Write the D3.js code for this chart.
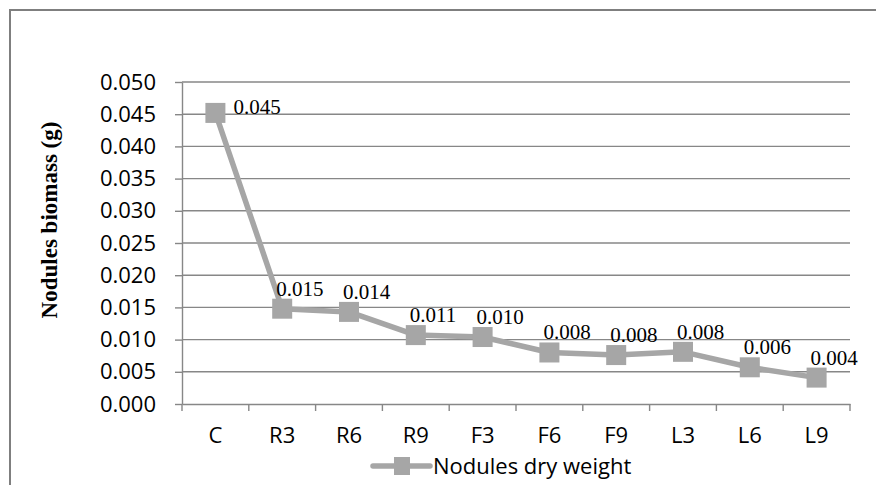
<!DOCTYPE html>
<html>
<head>
<meta charset="utf-8">
<script src="https://cdn.jsdelivr.net/npm/d3@7"></script>
<style>
  body { margin: 0; background: #fff; }
  svg { display: block; }
</style>
</head>
<body>
<svg id="chart" width="876" height="485"></svg>
<script>
var categories = ["C", "R3", "R6", "R9", "F3", "F6", "F9", "L3", "L6", "L9"];
var dryWeight = [0.0452, 0.0148, 0.0143, 0.0107, 0.0104, 0.0080, 0.0076, 0.0081, 0.0057, 0.0041];
var pointLabels = ["0.045", "0.015", "0.014", "0.011", "0.010", "0.008", "0.008", "0.008", "0.006", "0.004"];
var yTicks = [0, 0.005, 0.010, 0.015, 0.020, 0.025, 0.030, 0.035, 0.040, 0.045, 0.050];
var seriesName = "Nodules dry weight";
var yTitle = "Nodules biomass (g)";

var gridColor = "#878787";
var lineColor = "#a6a6a6";
var tickFont = "'Open Sans', sans-serif";
var labelFont = "'Liberation Serif', 'Times New Roman', serif";

var svg = d3.select("#chart");

// outer chart frame (right and bottom edges fall outside the picture)
svg.append("rect")
  .attr("x", 10).attr("y", 10)
  .attr("width", 900).attr("height", 500)
  .attr("fill", "none")
  .attr("stroke", "#7f7f7f")
  .attr("stroke-width", 2);

var x = d3.scaleBand().domain(categories).range([182, 850]).paddingInner(0).paddingOuter(0);
var y = d3.scaleLinear().domain([0, 0.05]).range([404, 82]);
var cx = function(c) { return x(c) + x.bandwidth() / 2; };

// gridlines
svg.append("g").selectAll("line")
  .data(yTicks.slice(1))
  .enter().append("line")
  .attr("x1", 182).attr("x2", 850)
  .attr("y1", function(d) { return y(d); })
  .attr("y2", function(d) { return y(d); })
  .attr("stroke", gridColor)
  .attr("stroke-width", 1.4);

// y axis
var yAxis = svg.append("g")
  .attr("transform", "translate(182,0)")
  .call(d3.axisLeft(y).tickValues(yTicks).tickFormat(d3.format(".3f")).tickSizeInner(7).tickSizeOuter(0).tickPadding(19));
yAxis.select(".domain").attr("stroke", gridColor).attr("stroke-width", 1.4);
yAxis.selectAll(".tick line").attr("stroke", gridColor).attr("stroke-width", 1.4);
yAxis.selectAll("text")
  .attr("font-family", tickFont)
  .attr("font-size", 22)
  .attr("fill", "#000");

// x axis (labels only, boundary ticks drawn below)
var xAxis = svg.append("g")
  .attr("transform", "translate(0,404)")
  .call(d3.axisBottom(x).tickSize(0).tickPadding(23));
xAxis.select(".domain").attr("stroke", gridColor).attr("stroke-width", 1.4);
xAxis.selectAll("text")
  .attr("font-family", tickFont)
  .attr("font-size", 22)
  .attr("fill", "#000");

var bounds = categories.map(function(c) { return x(c); }).concat([x.range()[1]]);
svg.append("g").selectAll("line")
  .data(bounds)
  .enter().append("line")
  .attr("x1", function(d) { return d; })
  .attr("x2", function(d) { return d; })
  .attr("y1", 404).attr("y2", 411)
  .attr("stroke", gridColor)
  .attr("stroke-width", 1.4);

// series line
var line = d3.line()
  .x(function(d, i) { return cx(categories[i]); })
  .y(function(d) { return y(d); });

svg.append("path")
  .datum(dryWeight)
  .attr("d", line)
  .attr("fill", "none")
  .attr("stroke", lineColor)
  .attr("stroke-width", 5.5)
  .attr("stroke-linejoin", "round");

svg.append("g").selectAll("rect")
  .data(dryWeight)
  .enter().append("rect")
  .attr("x", function(d, i) { return cx(categories[i]) - 10; })
  .attr("y", function(d) { return y(d) - 10; })
  .attr("width", 20).attr("height", 20)
  .attr("fill", lineColor);

// data labels
svg.append("g").selectAll("text")
  .data(dryWeight)
  .enter().append("text")
  .attr("x", function(d, i) { return i === 0 ? cx(categories[i]) + 18 : cx(categories[i]) - 6; })
  .attr("y", function(d, i) { return i === 0 ? y(d) + 1 : y(d) - 13; })
  .attr("font-family", labelFont)
  .attr("font-size", 21)
  .attr("fill", "#000")
  .text(function(d, i) { return pointLabels[i]; });

// y title
svg.append("text")
  .attr("transform", "translate(57,220) rotate(-90)")
  .attr("text-anchor", "middle")
  .attr("font-family", labelFont)
  .attr("font-weight", "bold")
  .attr("font-size", 23)
  .attr("fill", "#000")
  .text(yTitle);

// legend
var legend = svg.append("g").attr("transform", "translate(373,466)");
legend.append("line")
  .attr("x1", 0).attr("x2", 57)
  .attr("y1", 0).attr("y2", 0)
  .attr("stroke", lineColor)
  .attr("stroke-width", 5.5)
  .attr("stroke-linecap", "round");
legend.append("rect")
  .attr("x", 21).attr("y", -9)
  .attr("width", 16).attr("height", 18)
  .attr("fill", lineColor);
legend.append("text")
  .attr("x", 60).attr("y", 0)
  .attr("dy", "0.35em")
  .attr("font-family", tickFont)
  .attr("font-size", 22)
  .attr("fill", "#000")
  .text(seriesName);
</script>
</body>
</html>
